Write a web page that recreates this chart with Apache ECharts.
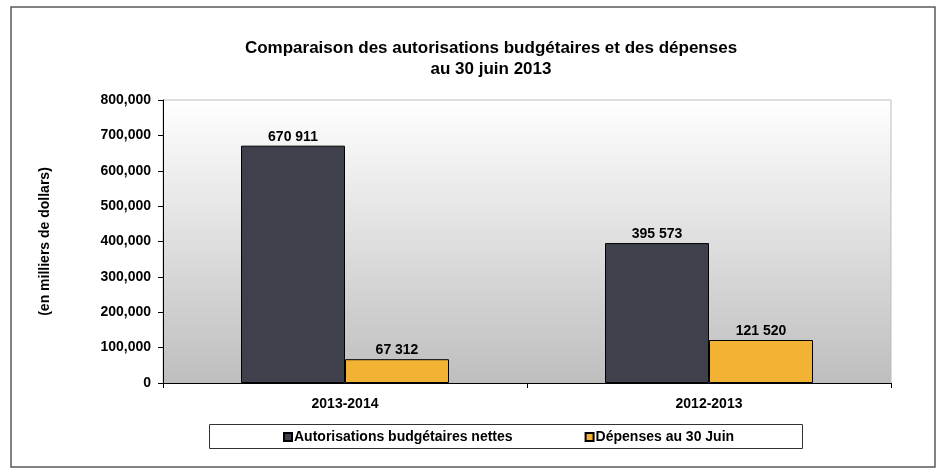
<!DOCTYPE html>
<html>
<head>
<meta charset="utf-8">
<script src="https://cdn.jsdelivr.net/npm/echarts@6/dist/echarts.min.js"></script>
<style>
html,body{margin:0;padding:0;background:#fff;}
#c{width:944px;height:472px;}
</style>
</head>
<body>
<div id="c"></div>
<script>
var categories = ['2013-2014', '2012-2013'];
var seriesNames = ['Autorisations budgétaires nettes', 'Dépenses au 30 Juin'];
var autorisations = [670911, 395573];
var depenses = [67312, 121520];
var yTicks = { min: 0, max: 800000, interval: 100000 };
var titleLines = ['Comparaison des autorisations budgétaires et des dépenses', 'au 30 juin 2013'];
var yAxisTitle = '(en milliers de dollars)';

var FONT = 'Liberation Sans, Arial, sans-serif';
function fmtSpace(v) { return String(v).replace(/\B(?=(\d{3})+(?!\d))/g, ' '); }
function fmtComma(v) { return String(v).replace(/\B(?=(\d{3})+(?!\d))/g, ','); }

var chart = echarts.init(document.getElementById('c'));
var labelStyle = {
  show: true, position: 'top', distance: 2,
  fontFamily: FONT, fontWeight: 'bold', fontSize: 14, color: '#000',
  formatter: function (p) { return fmtSpace(p.value); }
};
chart.setOption({
  animation: false,
  graphic: [
    { type: 'rect', shape: { x: 11, y: 7, width: 924, height: 460 },
      style: { fill: 'none', stroke: '#595959', lineWidth: 1.5 }, z: -10 },
    { type: 'rect', shape: { x: 209.5, y: 424.5, width: 593, height: 24 },
      style: { fill: '#fff', stroke: '#333', lineWidth: 1 }, z: -5 },
    { type: 'text', position: [491, 48], style: { text: titleLines[0], x: 0, y: 0, textAlign: 'center', textVerticalAlign: 'middle', fontFamily: FONT, fontWeight: 'bold', fontSize: 17, fill: '#000' } },
    { type: 'text', position: [491, 48], style: { text: titleLines[1], x: 0, y: 21, textAlign: 'center', textVerticalAlign: 'middle', fontFamily: FONT, fontWeight: 'bold', fontSize: 17, fill: '#000' } }
  ],
  legend: {
    left: 283, top: 430, padding: 0, itemWidth: 8, itemHeight: 8, itemGap: 72,
    icon: 'rect',
    textStyle: { fontFamily: FONT, fontWeight: 'bold', fontSize: 14, color: '#000', padding: [0, 0, 0, -3] },
    data: seriesNames
  },
  grid: {
    left: 163, top: 100, right: 944 - 891, bottom: 472 - 383,
    show: true, borderColor: '#bdbdbd', borderWidth: 1,
    backgroundColor: { type: 'linear', x: 0, y: 0, x2: 0, y2: 1,
      colorStops: [{ offset: 0, color: '#ffffff' }, { offset: 1, color: '#bebebe' }] }
  },
  xAxis: {
    type: 'category', data: categories,
    axisLine: { lineStyle: { color: '#000', width: 1 } },
    axisTick: { show: true, length: 5, lineStyle: { color: '#000' } },
    axisLabel: { margin: 14, fontFamily: FONT, fontWeight: 'bold', fontSize: 14, color: '#000' }
  },
  yAxis: {
    type: 'value', min: yTicks.min, max: yTicks.max, interval: yTicks.interval,
    name: yAxisTitle, nameLocation: 'middle', nameGap: 111, nameRotate: 90,
    nameTextStyle: { fontFamily: FONT, fontWeight: 'bold', fontSize: 14, color: '#000' },
    axisLine: { show: true, lineStyle: { color: '#000', width: 1 } },
    axisTick: { show: true, length: 5, lineStyle: { color: '#000' } },
    splitLine: { show: false },
    axisLabel: { margin: 12, fontFamily: FONT, fontWeight: 'bold', fontSize: 14, color: '#000',
      formatter: function (v) { return fmtComma(v); } }
  },
  series: [
    { name: seriesNames[0], type: 'bar', data: autorisations, barWidth: 104, barGap: '0%',
      itemStyle: { color: '#3e404b', borderColor: '#000', borderWidth: 1 }, label: labelStyle },
    { name: seriesNames[1], type: 'bar', data: depenses, barWidth: 104, barGap: '0%',
      itemStyle: { color: '#f2b233', borderColor: '#000', borderWidth: 1 }, label: labelStyle }
  ]
});
</script>
</body>
</html>
